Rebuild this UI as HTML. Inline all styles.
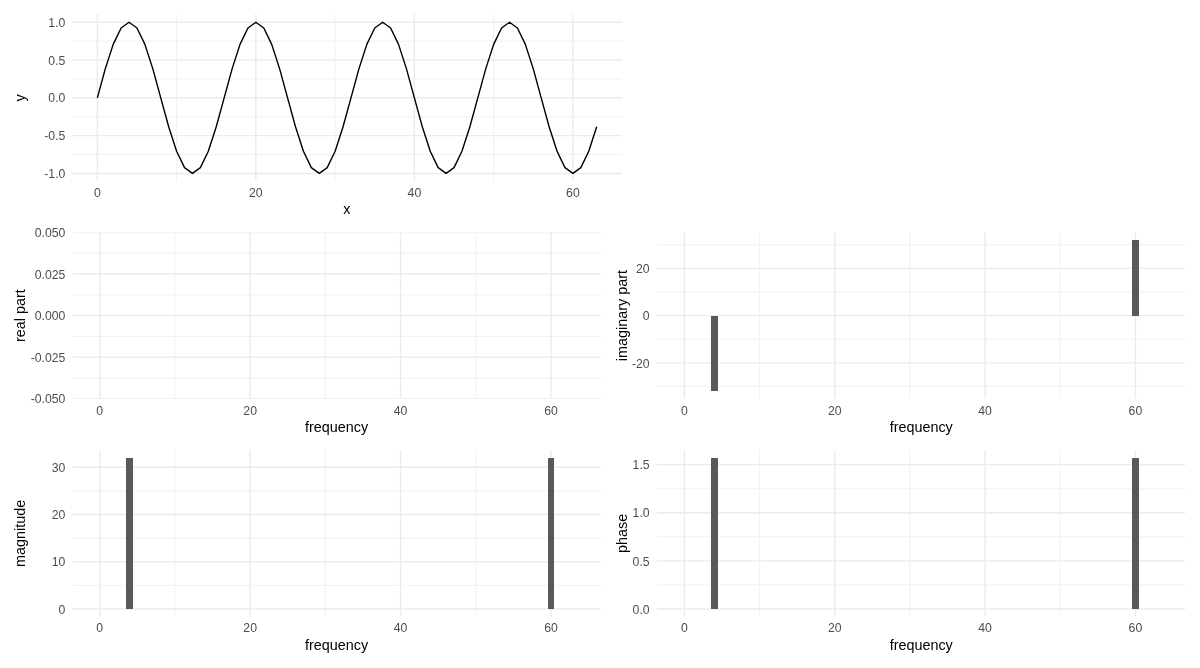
<!DOCTYPE html>
<html><head><meta charset="utf-8"><title>FFT plots</title>
<style>
html,body{margin:0;padding:0;background:#fff;}
svg{display:block;font-family:"Liberation Sans",sans-serif;}
</style></head><body>
<svg width="1200" height="668" viewBox="0 0 1200 668">
<rect width="1200" height="668" fill="#fff"/>
<clipPath id="c0"><rect x="72" y="14.25" width="549.9" height="166.75"/></clipPath>
<g clip-path="url(#c0)">
<line x1="72" x2="621.9" y1="154.54" y2="154.54" stroke="#EBEBEB" stroke-width="0.71"/>
<line x1="72" x2="621.9" y1="116.74" y2="116.74" stroke="#EBEBEB" stroke-width="0.71"/>
<line x1="72" x2="621.9" y1="78.93" y2="78.93" stroke="#EBEBEB" stroke-width="0.71"/>
<line x1="72" x2="621.9" y1="41.13" y2="41.13" stroke="#EBEBEB" stroke-width="0.71"/>
<line x1="176.61" x2="176.61" y1="12.67" y2="181" stroke="#EBEBEB" stroke-width="0.71"/>
<line x1="335.13" x2="335.13" y1="12.67" y2="181" stroke="#EBEBEB" stroke-width="0.71"/>
<line x1="493.65" x2="493.65" y1="12.67" y2="181" stroke="#EBEBEB" stroke-width="0.71"/>
<line x1="72" x2="621.9" y1="173.44" y2="173.44" stroke="#EBEBEB" stroke-width="1.42"/>
<line x1="72" x2="621.9" y1="135.64" y2="135.64" stroke="#EBEBEB" stroke-width="1.42"/>
<line x1="72" x2="621.9" y1="97.83" y2="97.83" stroke="#EBEBEB" stroke-width="1.42"/>
<line x1="72" x2="621.9" y1="60.03" y2="60.03" stroke="#EBEBEB" stroke-width="1.42"/>
<line x1="72" x2="621.9" y1="22.23" y2="22.23" stroke="#EBEBEB" stroke-width="1.42"/>
<line x1="97.35" x2="97.35" y1="12.67" y2="181" stroke="#EBEBEB" stroke-width="1.42"/>
<line x1="255.87" x2="255.87" y1="12.67" y2="181" stroke="#EBEBEB" stroke-width="1.42"/>
<line x1="414.39" x2="414.39" y1="12.67" y2="181" stroke="#EBEBEB" stroke-width="1.42"/>
<line x1="572.91" x2="572.91" y1="12.67" y2="181" stroke="#EBEBEB" stroke-width="1.42"/>
<polyline points="97.35,97.83 105.27,68.9 113.2,44.37 121.13,27.99 129.05,22.23 136.98,27.99 144.9,44.37 152.83,68.9 160.76,97.83 168.68,126.77 176.61,151.3 184.53,167.68 192.46,173.44 200.39,167.68 208.31,151.3 216.24,126.77 224.16,97.84 232.09,68.9 240.02,44.37 247.94,27.99 255.87,22.23 263.79,27.99 271.72,44.37 279.65,68.9 287.57,97.83 295.5,126.77 303.42,151.3 311.35,167.68 319.28,173.44 327.2,167.68 335.13,151.3 343.05,126.77 350.98,97.84 358.91,68.9 366.83,44.37 374.76,27.99 382.68,22.23 390.61,27.99 398.54,44.37 406.46,68.9 414.39,97.83 422.31,126.77 430.24,151.3 438.17,167.68 446.09,173.44 454.02,167.68 461.94,151.3 469.87,126.77 477.8,97.84 485.72,68.9 493.65,44.37 501.57,27.99 509.5,22.23 517.43,27.99 525.35,44.37 533.28,68.9 541.2,97.83 549.13,126.77 557.06,151.3 564.98,167.68 572.91,173.44 580.83,167.68 588.76,151.3 596.69,126.77" fill="none" stroke="#000" stroke-width="1.42" stroke-linejoin="round" stroke-linecap="butt"/>
</g>
<text transform="translate(65.4,178) scale(1.045,1.07)" text-anchor="end" font-size="11.73" fill="#4D4D4D">-1.0</text>
<text transform="translate(65.4,140) scale(1.045,1.07)" text-anchor="end" font-size="11.73" fill="#4D4D4D">-0.5</text>
<text transform="translate(65.4,102) scale(1.045,1.07)" text-anchor="end" font-size="11.73" fill="#4D4D4D">0.0</text>
<text transform="translate(65.4,65) scale(1.045,1.07)" text-anchor="end" font-size="11.73" fill="#4D4D4D">0.5</text>
<text transform="translate(65.4,27) scale(1.045,1.07)" text-anchor="end" font-size="11.73" fill="#4D4D4D">1.0</text>
<text transform="translate(97.35,197) scale(1.045,1.07)" text-anchor="middle" font-size="11.73" fill="#4D4D4D">0</text>
<text transform="translate(255.87,197) scale(1.045,1.07)" text-anchor="middle" font-size="11.73" fill="#4D4D4D">20</text>
<text transform="translate(414.39,197) scale(1.045,1.07)" text-anchor="middle" font-size="11.73" fill="#4D4D4D">40</text>
<text transform="translate(572.91,197) scale(1.045,1.07)" text-anchor="middle" font-size="11.73" fill="#4D4D4D">60</text>
<text transform="translate(346.95,214.1) scale(0.98,1)" text-anchor="middle" font-size="14.67" fill="#000">x</text>
<text transform="translate(25,97.83) rotate(-90) scale(0.98,1)" text-anchor="middle" font-size="14.67" fill="#000">y</text>
<clipPath id="c1"><rect x="72.34" y="232.44" width="528.58" height="166.34"/></clipPath>
<g clip-path="url(#c1)">
<line x1="72.34" x2="600.92" y1="377.99" y2="377.99" stroke="#EBEBEB" stroke-width="0.71"/>
<line x1="72.34" x2="600.92" y1="336.4" y2="336.4" stroke="#EBEBEB" stroke-width="0.71"/>
<line x1="72.34" x2="600.92" y1="294.82" y2="294.82" stroke="#EBEBEB" stroke-width="0.71"/>
<line x1="72.34" x2="600.92" y1="253.23" y2="253.23" stroke="#EBEBEB" stroke-width="0.71"/>
<line x1="174.95" x2="174.95" y1="230.44" y2="398.78" stroke="#EBEBEB" stroke-width="0.71"/>
<line x1="325.35" x2="325.35" y1="230.44" y2="398.78" stroke="#EBEBEB" stroke-width="0.71"/>
<line x1="475.75" x2="475.75" y1="230.44" y2="398.78" stroke="#EBEBEB" stroke-width="0.71"/>
<line x1="72.34" x2="600.92" y1="398.78" y2="398.78" stroke="#EBEBEB" stroke-width="1.42"/>
<line x1="72.34" x2="600.92" y1="357.19" y2="357.19" stroke="#EBEBEB" stroke-width="1.42"/>
<line x1="72.34" x2="600.92" y1="315.61" y2="315.61" stroke="#EBEBEB" stroke-width="1.42"/>
<line x1="72.34" x2="600.92" y1="274.02" y2="274.02" stroke="#EBEBEB" stroke-width="1.42"/>
<line x1="72.34" x2="600.92" y1="232.44" y2="232.44" stroke="#EBEBEB" stroke-width="1.42"/>
<line x1="99.75" x2="99.75" y1="230.44" y2="398.78" stroke="#EBEBEB" stroke-width="1.42"/>
<line x1="250.15" x2="250.15" y1="230.44" y2="398.78" stroke="#EBEBEB" stroke-width="1.42"/>
<line x1="400.55" x2="400.55" y1="230.44" y2="398.78" stroke="#EBEBEB" stroke-width="1.42"/>
<line x1="550.95" x2="550.95" y1="230.44" y2="398.78" stroke="#EBEBEB" stroke-width="1.42"/>
</g>
<text transform="translate(65.4,403) scale(1.045,1.07)" text-anchor="end" font-size="11.73" fill="#4D4D4D">-0.050</text>
<text transform="translate(65.4,362) scale(1.045,1.07)" text-anchor="end" font-size="11.73" fill="#4D4D4D">-0.025</text>
<text transform="translate(65.4,320) scale(1.045,1.07)" text-anchor="end" font-size="11.73" fill="#4D4D4D">0.000</text>
<text transform="translate(65.4,279) scale(1.045,1.07)" text-anchor="end" font-size="11.73" fill="#4D4D4D">0.025</text>
<text transform="translate(65.4,237) scale(1.045,1.07)" text-anchor="end" font-size="11.73" fill="#4D4D4D">0.050</text>
<text transform="translate(99.75,414.5) scale(1.045,1.07)" text-anchor="middle" font-size="11.73" fill="#4D4D4D">0</text>
<text transform="translate(250.15,414.5) scale(1.045,1.07)" text-anchor="middle" font-size="11.73" fill="#4D4D4D">20</text>
<text transform="translate(400.55,414.5) scale(1.045,1.07)" text-anchor="middle" font-size="11.73" fill="#4D4D4D">40</text>
<text transform="translate(550.95,414.5) scale(1.045,1.07)" text-anchor="middle" font-size="11.73" fill="#4D4D4D">60</text>
<text transform="translate(336.63,431.9) scale(0.98,1)" text-anchor="middle" font-size="14.67" fill="#000">frequency</text>
<text transform="translate(25,315.61) rotate(-90) scale(0.98,1)" text-anchor="middle" font-size="14.67" fill="#000">real part</text>
<clipPath id="c2"><rect x="657.03" y="232.44" width="528.35" height="166.34"/></clipPath>
<g clip-path="url(#c2)">
<line x1="657.03" x2="1185.38" y1="386.49" y2="386.49" stroke="#EBEBEB" stroke-width="0.71"/>
<line x1="657.03" x2="1185.38" y1="339.24" y2="339.24" stroke="#EBEBEB" stroke-width="0.71"/>
<line x1="657.03" x2="1185.38" y1="291.98" y2="291.98" stroke="#EBEBEB" stroke-width="0.71"/>
<line x1="657.03" x2="1185.38" y1="244.73" y2="244.73" stroke="#EBEBEB" stroke-width="0.71"/>
<line x1="759.6" x2="759.6" y1="230.44" y2="398.78" stroke="#EBEBEB" stroke-width="0.71"/>
<line x1="909.93" x2="909.93" y1="230.44" y2="398.78" stroke="#EBEBEB" stroke-width="0.71"/>
<line x1="1060.26" x2="1060.26" y1="230.44" y2="398.78" stroke="#EBEBEB" stroke-width="0.71"/>
<line x1="657.03" x2="1185.38" y1="362.87" y2="362.87" stroke="#EBEBEB" stroke-width="1.42"/>
<line x1="657.03" x2="1185.38" y1="315.61" y2="315.61" stroke="#EBEBEB" stroke-width="1.42"/>
<line x1="657.03" x2="1185.38" y1="268.35" y2="268.35" stroke="#EBEBEB" stroke-width="1.42"/>
<line x1="684.43" x2="684.43" y1="230.44" y2="398.78" stroke="#EBEBEB" stroke-width="1.42"/>
<line x1="834.76" x2="834.76" y1="230.44" y2="398.78" stroke="#EBEBEB" stroke-width="1.42"/>
<line x1="985.1" x2="985.1" y1="230.44" y2="398.78" stroke="#EBEBEB" stroke-width="1.42"/>
<line x1="1135.43" x2="1135.43" y1="230.44" y2="398.78" stroke="#EBEBEB" stroke-width="1.42"/>
<rect x="711.11" y="315.61" width="6.77" height="75.61" fill="#595959" shape-rendering="crispEdges"/>
<rect x="1132.05" y="240" width="6.77" height="75.61" fill="#595959" shape-rendering="crispEdges"/>
</g>
<text transform="translate(649.6,368) scale(1.045,1.07)" text-anchor="end" font-size="11.73" fill="#4D4D4D">-20</text>
<text transform="translate(649.6,320) scale(1.045,1.07)" text-anchor="end" font-size="11.73" fill="#4D4D4D">0</text>
<text transform="translate(649.6,273) scale(1.045,1.07)" text-anchor="end" font-size="11.73" fill="#4D4D4D">20</text>
<text transform="translate(684.43,414.5) scale(1.045,1.07)" text-anchor="middle" font-size="11.73" fill="#4D4D4D">0</text>
<text transform="translate(834.76,414.5) scale(1.045,1.07)" text-anchor="middle" font-size="11.73" fill="#4D4D4D">20</text>
<text transform="translate(985.1,414.5) scale(1.045,1.07)" text-anchor="middle" font-size="11.73" fill="#4D4D4D">40</text>
<text transform="translate(1135.43,414.5) scale(1.045,1.07)" text-anchor="middle" font-size="11.73" fill="#4D4D4D">60</text>
<text transform="translate(921.21,431.9) scale(0.98,1)" text-anchor="middle" font-size="14.67" fill="#000">frequency</text>
<text transform="translate(626.5,315.61) rotate(-90) scale(0.98,1)" text-anchor="middle" font-size="14.67" fill="#000">imaginary part</text>
<clipPath id="c3"><rect x="72.34" y="450.22" width="528.58" height="166.34"/></clipPath>
<g clip-path="url(#c3)">
<line x1="72.34" x2="600.92" y1="585.37" y2="585.37" stroke="#EBEBEB" stroke-width="0.71"/>
<line x1="72.34" x2="600.92" y1="538.12" y2="538.12" stroke="#EBEBEB" stroke-width="0.71"/>
<line x1="72.34" x2="600.92" y1="490.86" y2="490.86" stroke="#EBEBEB" stroke-width="0.71"/>
<line x1="174.95" x2="174.95" y1="448.22" y2="616.56" stroke="#EBEBEB" stroke-width="0.71"/>
<line x1="325.35" x2="325.35" y1="448.22" y2="616.56" stroke="#EBEBEB" stroke-width="0.71"/>
<line x1="475.75" x2="475.75" y1="448.22" y2="616.56" stroke="#EBEBEB" stroke-width="0.71"/>
<line x1="72.34" x2="600.92" y1="609" y2="609" stroke="#EBEBEB" stroke-width="1.42"/>
<line x1="72.34" x2="600.92" y1="561.74" y2="561.74" stroke="#EBEBEB" stroke-width="1.42"/>
<line x1="72.34" x2="600.92" y1="514.49" y2="514.49" stroke="#EBEBEB" stroke-width="1.42"/>
<line x1="72.34" x2="600.92" y1="467.23" y2="467.23" stroke="#EBEBEB" stroke-width="1.42"/>
<line x1="99.75" x2="99.75" y1="448.22" y2="616.56" stroke="#EBEBEB" stroke-width="1.42"/>
<line x1="250.15" x2="250.15" y1="448.22" y2="616.56" stroke="#EBEBEB" stroke-width="1.42"/>
<line x1="400.55" x2="400.55" y1="448.22" y2="616.56" stroke="#EBEBEB" stroke-width="1.42"/>
<line x1="550.95" x2="550.95" y1="448.22" y2="616.56" stroke="#EBEBEB" stroke-width="1.42"/>
<rect x="126.45" y="457.78" width="6.77" height="151.22" fill="#595959" shape-rendering="crispEdges"/>
<rect x="547.57" y="457.78" width="6.77" height="151.22" fill="#595959" shape-rendering="crispEdges"/>
</g>
<text transform="translate(65.4,613.6) scale(1.045,1.07)" text-anchor="end" font-size="11.73" fill="#4D4D4D">0</text>
<text transform="translate(65.4,566) scale(1.045,1.07)" text-anchor="end" font-size="11.73" fill="#4D4D4D">10</text>
<text transform="translate(65.4,519) scale(1.045,1.07)" text-anchor="end" font-size="11.73" fill="#4D4D4D">20</text>
<text transform="translate(65.4,472) scale(1.045,1.07)" text-anchor="end" font-size="11.73" fill="#4D4D4D">30</text>
<text transform="translate(99.75,632.2) scale(1.045,1.07)" text-anchor="middle" font-size="11.73" fill="#4D4D4D">0</text>
<text transform="translate(250.15,632.2) scale(1.045,1.07)" text-anchor="middle" font-size="11.73" fill="#4D4D4D">20</text>
<text transform="translate(400.55,632.2) scale(1.045,1.07)" text-anchor="middle" font-size="11.73" fill="#4D4D4D">40</text>
<text transform="translate(550.95,632.2) scale(1.045,1.07)" text-anchor="middle" font-size="11.73" fill="#4D4D4D">60</text>
<text transform="translate(336.63,649.7) scale(0.98,1)" text-anchor="middle" font-size="14.67" fill="#000">frequency</text>
<text transform="translate(25,533.39) rotate(-90) scale(0.98,1)" text-anchor="middle" font-size="14.67" fill="#000">magnitude</text>
<clipPath id="c4"><rect x="657.03" y="450.22" width="528.35" height="166.34"/></clipPath>
<g clip-path="url(#c4)">
<line x1="657.03" x2="1185.38" y1="584.93" y2="584.93" stroke="#EBEBEB" stroke-width="0.71"/>
<line x1="657.03" x2="1185.38" y1="536.8" y2="536.8" stroke="#EBEBEB" stroke-width="0.71"/>
<line x1="657.03" x2="1185.38" y1="488.66" y2="488.66" stroke="#EBEBEB" stroke-width="0.71"/>
<line x1="759.6" x2="759.6" y1="448.22" y2="616.56" stroke="#EBEBEB" stroke-width="0.71"/>
<line x1="909.93" x2="909.93" y1="448.22" y2="616.56" stroke="#EBEBEB" stroke-width="0.71"/>
<line x1="1060.26" x2="1060.26" y1="448.22" y2="616.56" stroke="#EBEBEB" stroke-width="0.71"/>
<line x1="657.03" x2="1185.38" y1="609" y2="609" stroke="#EBEBEB" stroke-width="1.42"/>
<line x1="657.03" x2="1185.38" y1="560.86" y2="560.86" stroke="#EBEBEB" stroke-width="1.42"/>
<line x1="657.03" x2="1185.38" y1="512.73" y2="512.73" stroke="#EBEBEB" stroke-width="1.42"/>
<line x1="657.03" x2="1185.38" y1="464.6" y2="464.6" stroke="#EBEBEB" stroke-width="1.42"/>
<line x1="684.43" x2="684.43" y1="448.22" y2="616.56" stroke="#EBEBEB" stroke-width="1.42"/>
<line x1="834.76" x2="834.76" y1="448.22" y2="616.56" stroke="#EBEBEB" stroke-width="1.42"/>
<line x1="985.1" x2="985.1" y1="448.22" y2="616.56" stroke="#EBEBEB" stroke-width="1.42"/>
<line x1="1135.43" x2="1135.43" y1="448.22" y2="616.56" stroke="#EBEBEB" stroke-width="1.42"/>
<rect x="711.11" y="457.78" width="6.77" height="151.22" fill="#595959" shape-rendering="crispEdges"/>
<rect x="1132.05" y="457.78" width="6.77" height="151.22" fill="#595959" shape-rendering="crispEdges"/>
</g>
<text transform="translate(649.6,613.5) scale(1.045,1.07)" text-anchor="end" font-size="11.73" fill="#4D4D4D">0.0</text>
<text transform="translate(649.6,566.3) scale(1.045,1.07)" text-anchor="end" font-size="11.73" fill="#4D4D4D">0.5</text>
<text transform="translate(649.6,517) scale(1.045,1.07)" text-anchor="end" font-size="11.73" fill="#4D4D4D">1.0</text>
<text transform="translate(649.6,469) scale(1.045,1.07)" text-anchor="end" font-size="11.73" fill="#4D4D4D">1.5</text>
<text transform="translate(684.43,632.2) scale(1.045,1.07)" text-anchor="middle" font-size="11.73" fill="#4D4D4D">0</text>
<text transform="translate(834.76,632.2) scale(1.045,1.07)" text-anchor="middle" font-size="11.73" fill="#4D4D4D">20</text>
<text transform="translate(985.1,632.2) scale(1.045,1.07)" text-anchor="middle" font-size="11.73" fill="#4D4D4D">40</text>
<text transform="translate(1135.43,632.2) scale(1.045,1.07)" text-anchor="middle" font-size="11.73" fill="#4D4D4D">60</text>
<text transform="translate(921.21,649.7) scale(0.98,1)" text-anchor="middle" font-size="14.67" fill="#000">frequency</text>
<text transform="translate(626.5,533.39) rotate(-90) scale(0.98,1)" text-anchor="middle" font-size="14.67" fill="#000">phase</text>
</svg>
</body></html>
